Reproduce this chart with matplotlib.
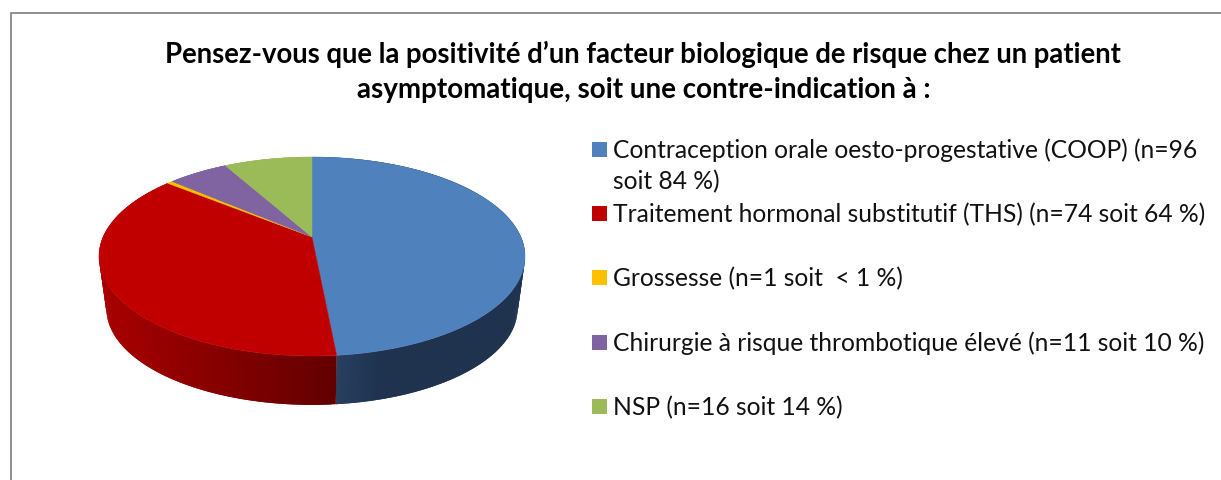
import numpy as np
import matplotlib
matplotlib.use("Agg")
import matplotlib.pyplot as plt
from matplotlib.patches import Rectangle

title_lines = ["Pensez-vous que la positivité d’un facteur biologique de risque chez un patient",
               "asymptomatique, soit une contre-indication à :"]
labels = ["Contraception orale oesto-progestative (COOP) (n=96\nsoit 84 %)",
          "Traitement hormonal substitutif (THS) (n=74 soit 64 %)",
          "Grossesse (n=1 soit  < 1 %)",
          "Chirurgie à risque thrombotique élevé (n=11 soit 10 %)",
          "NSP (n=16 soit 14 %)"]
counts = [96, 74, 1, 11, 16]
colors = ["#4f81bd", "#c00000", "#ffc000", "#8064a2", "#9bbb59"]
legend_y = [142, 206, 270, 335, 399]

plt.rcParams["font.family"] = ["Lato", "DejaVu Sans"]

fig = plt.figure(figsize=(12.21, 4.8), dpi=100)
ax = fig.add_axes([0, 0, 1, 1])
ax.set_xlim(0, 1221)
ax.set_ylim(480, 0)
ax.axis("off")


# circle angle (clockwise from the top) -> screen position, with some perspective
def rim(theta, y0=237, scale=1.0):
    u = np.sin(theta)
    v = np.cos(theta)
    d = 1 + 0.196 * v
    return 312 + scale * 208.9 * u / d, y0 - scale * 95.7 * v / d


def side_color(i, x):
    if i == 0:
        t = np.clip((x - 337) / 45, 0, 1)
        return (0.16 - 0.04 * t, 0.25 - 0.05 * t, 0.38 - 0.07 * t)
    t = np.clip((x - 100) / 236, 0, 1)
    return (0.66 - 0.27 * t, 0, 0)


edges = np.cumsum([0] + counts) / sum(counts) * 2 * np.pi

# side of the pie, narrow strips for the shading, each one runs under the next to hide seams
for i in range(len(counts)):
    th = np.linspace(edges[i], edges[i + 1], max(int(np.degrees(edges[i + 1] - edges[i])), 2) + 1)
    for j in range(len(th) - 1):
        a = th[j]
        b = th[min(j + 2, len(th) - 1)]
        xa, ya = rim(a)
        xb, yb = rim(b)
        xc, yc = rim(b, 290, 0.965)
        xd, yd = rim(a, 290, 0.965)
        mid = rim(th[j])[0]
        col = side_color(i, mid) if i < 2 else colors[i]
        ax.fill([xa, xb, xc, xd], [ya, yb, yc, yd], color=col, lw=0, zorder=1)

# top of the pie
for i in range(len(counts)):
    th = np.linspace(edges[i], edges[i + 1], 200)
    x, y = rim(th)
    ax.fill(np.r_[312, x], np.r_[237, y], color=colors[i], lw=0.3, zorder=2)

ax.text(642.5, 63, title_lines[0], ha="center", va="baseline", fontsize=19.8, fontweight="bold", color="black")
ax.text(643.5, 98, title_lines[1], ha="center", va="baseline", fontsize=20, fontweight="bold", color="black")

for lab, col, ly in zip(labels, colors, legend_y):
    ax.add_patch(Rectangle((592, ly), 15, 15, facecolor=col, edgecolor="none", zorder=3))
    parts = lab.split("\n")
    for k, part in enumerate(parts):
        ax.text(613, ly + 16 + 31 * k, part, ha="left", va="baseline", fontsize=17.7, color="#111111")

# chart frame, only left and top are in the picture
ax.plot([10.5, 10.5, 1221], [480, 12.5, 12.5], color="#868686", lw=1.3, zorder=4, clip_on=False)

fig.savefig("out.png", dpi=100)
